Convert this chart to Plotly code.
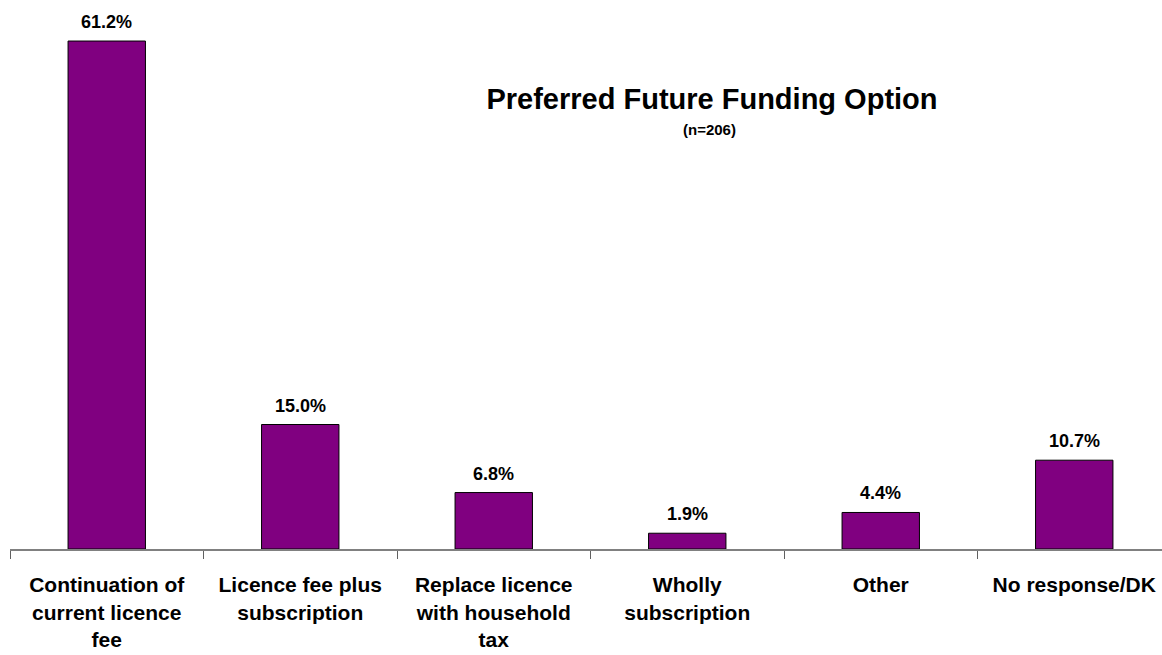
import plotly.graph_objects as go

# Survey responses: preferred future funding option (n=206)
categories = [
    "Continuation of<br>current licence<br>fee",
    "Licence fee plus<br>subscription",
    "Replace licence<br>with household<br>tax",
    "Wholly<br>subscription",
    "Other",
    "No response/DK",
]
shares = [61.2, 15.0, 6.8, 1.9, 4.4, 10.7]
value_labels = [f"{v:.1f}%" for v in shares]

title_text = "Preferred Future Funding Option"
subtitle_text = "(n=206)"

FONT = "Liberation Sans, Arial, sans-serif"
W, H = 1162, 655
ML, MR, MT, MB = 10, 0, 0, 106

fig = go.Figure(
    go.Bar(
        x=categories,
        y=shares,
        marker=dict(color="#800080", line=dict(color="#000000", width=1)),
        width=0.4,
        hoverinfo="skip",
    )
)

# value labels sitting above each bar
for cat, val, lab in zip(categories, shares, value_labels):
    fig.add_annotation(
        x=cat, y=val, text=lab, showarrow=False,
        xanchor="center", yanchor="bottom", yshift=7,
        font=dict(family=FONT, size=18, color="#000000", weight="bold"),
    )

fig.add_annotation(
    xref="paper", yref="paper",
    x=(709 - ML) / (W - ML - MR), y=(H - MB - 130) / (H - MB - MT),
    text=subtitle_text, showarrow=False, xanchor="center", yanchor="middle",
    font=dict(family=FONT, size=15, color="#000000", weight="bold"),
)

fig.update_layout(
    width=W, height=H,
    margin=dict(l=ML, r=MR, t=MT, b=MB, pad=0),
    paper_bgcolor="#ffffff", plot_bgcolor="#ffffff",
    showlegend=False,
    title=dict(
        text=title_text, xref="paper", yref="container",
        x=(712 - ML) / (W - ML - MR), xanchor="center",
        y=1 - 99 / H, yanchor="middle",
        font=dict(family=FONT, size=29, color="#000000", weight="bold"),
    ),
    xaxis=dict(
        type="category",
        range=[-0.5, -0.5 + (W - ML - MR) / 193.5],
        showline=True, linecolor="#808080", linewidth=2,
        ticks="outside", tickson="boundaries", ticklen=8,
        tickcolor="#606060", tickwidth=1,
        ticklabelstandoff=16,
        showgrid=False, zeroline=False,
        tickfont=dict(family=FONT, size=21, color="#000000", weight="bold"),
    ),
    yaxis=dict(
        range=[0, (H - MB - MT) / 8.3],
        visible=False, showgrid=False, zeroline=False,
    ),
)

fig.write_html("out.html")
